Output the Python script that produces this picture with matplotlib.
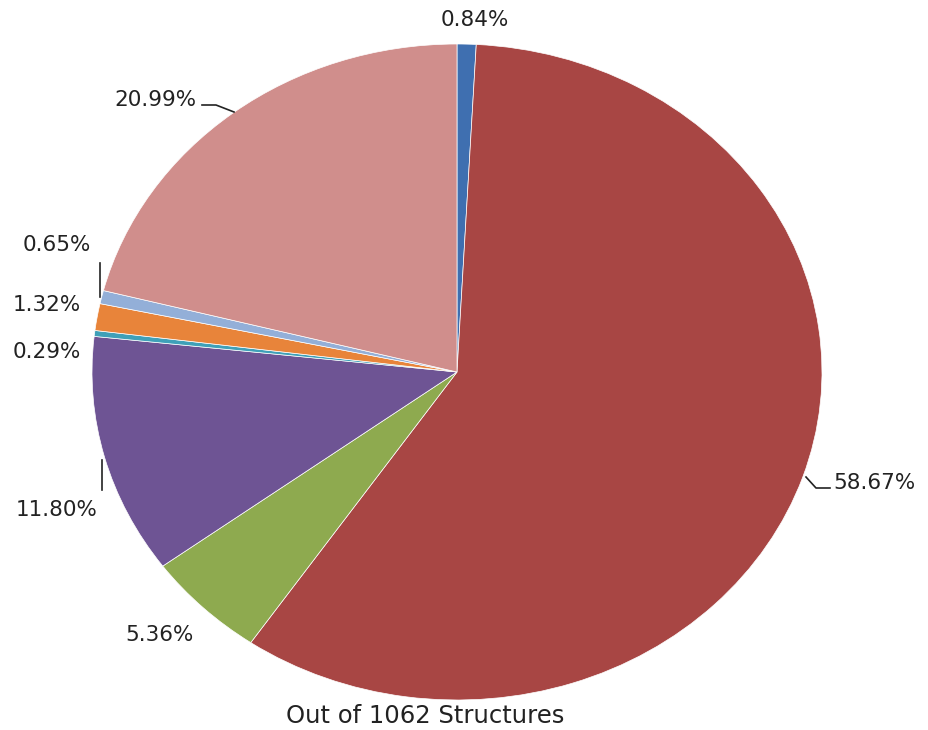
import matplotlib
matplotlib.use("Agg")
import matplotlib.pyplot as plt

labels = ["0.84%", "58.67%", "5.36%", "11.80%", "0.29%", "1.32%", "0.65%", "20.99%"]
values = [0.84, 58.67, 5.36, 11.80, 0.29, 1.32, 0.65, 20.99]
colors = ["#3F6FB0", "#A84644", "#8EAA4F", "#6E5494", "#3FA0B8", "#E8843A", "#93AFD8", "#D08E8C"]
footer = "Out of 1062 Structures"

W, H = 929, 730
cx, cy = 457, 372
rx, ry = 365, 328

fig = plt.figure(figsize=(W / 100, H / 100), dpi=100)
ax = fig.add_axes([0, 0, 1, 1])
ax.pie(values, colors=colors, startangle=90, counterclock=False, radius=1,
       wedgeprops=dict(edgecolor="white", linewidth=0.5))
ax.set_aspect("auto")
ax.set_xlim(-cx / rx, (W - cx) / rx)
ax.set_ylim(-(H - cy) / ry, cy / ry)
ax.axis("off")


def P(x, y):
    return ((x - cx) / rx, (cy - y) / ry)


fs = 15.5
tcol = "#222222"
pos = {
    "0.84%": (475, 20, "center"),
    "58.67%": (833, 483, "left"),
    "5.36%": (160, 635, "center"),
    "11.80%": (57, 510, "center"),
    "0.29%": (47, 352, "center"),
    "1.32%": (47, 305, "center"),
    "0.65%": (57, 245, "center"),
    "20.99%": (155, 100, "center"),
}
for lab in labels:
    x, y, ha = pos[lab]
    ax.text(*P(x, y), lab, ha=ha, va="center", fontsize=fs, color=tcol)

leaders = [
    [(806, 477), (816, 488), (830, 488)],
    [(102, 460), (102, 490)],
    [(100, 263), (100, 297)],
    [(202, 105), (216, 105), (234, 112)],
]
for pts in leaders:
    xs, ys = zip(*[P(x, y) for x, y in pts])
    ax.plot(xs, ys, color="#222222", linewidth=1.2)

ax.text(*P(425, 716), footer, ha="center", va="center", fontsize=17.5, color=tcol)

fig.savefig("out.png", dpi=100, facecolor="white")
